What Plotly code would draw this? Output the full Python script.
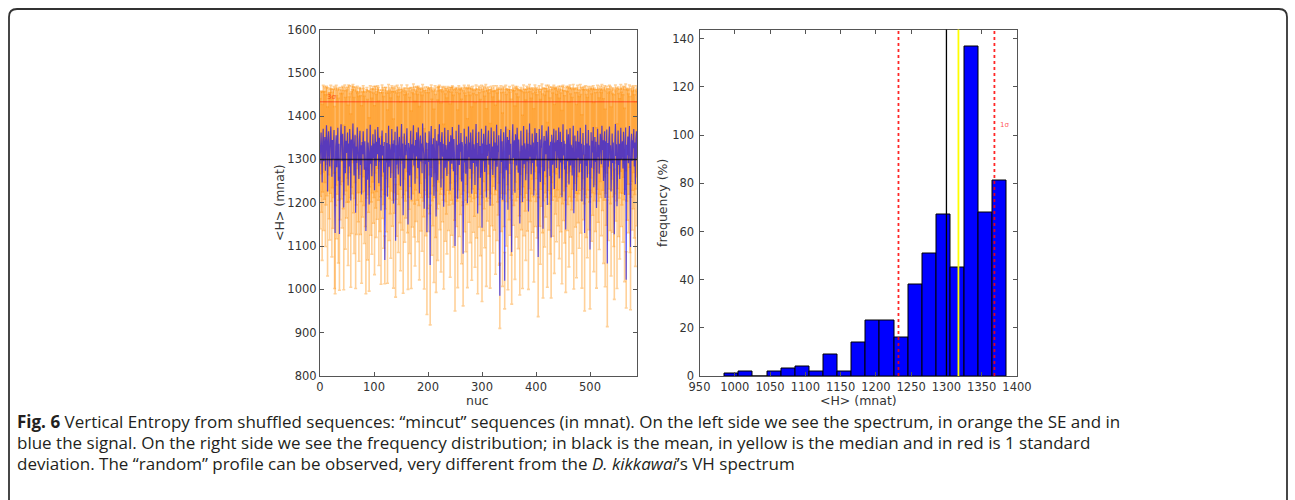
import plotly.graph_objects as go

# ---------------- data ----------------
signal = [
    1290, 1335, 1362, 1318, 1247, 1340, 1371, 1296, 1338, 1352, 1274, 1330, 1379, 1341, 1226, 1338, 1365, 1308, 1284, 1342,
    1376, 1333, 1260, 1345, 1301, 1337, 1368, 1212, 1130, 1329, 1356, 1282, 1340, 1373, 1251, 1336, 1128, 1311, 1347, 1381,
    1334, 1297, 1359, 1326, 1189, 1339, 1377, 1268, 1343, 1315, 1331, 1362, 1240, 1337, 1284, 1370, 1332, 1205, 1346, 1299,
    1341, 1383, 1322, 1263, 1335, 1357, 1177, 1330, 1292, 1374, 1338, 1306, 1255, 1344, 1366, 1287, 1333, 1219, 1340, 1312,
    1365, 1329, 1276, 1342, 1300, 1135, 1336, 1371, 1253, 1339, 1318, 1196, 1347, 1380, 1290, 1332, 1261, 1343, 1358, 1303,
    1337, 1229, 1369, 1328, 1285, 1341, 1312, 1375, 1336, 1245, 1350, 1294, 1334, 1182, 1345, 1367, 1309, 1331, 1270, 1340,
    1068, 1326, 1361, 1293, 1338, 1214, 1347, 1378, 1283, 1335, 1320, 1257, 1342, 1370, 1301, 1336, 1198, 1344, 1316, 1364,
    1112, 1333, 1288, 1376, 1340, 1265, 1331, 1352, 1304, 1238, 1346, 1382, 1297, 1337, 1171, 1339, 1360, 1279, 1334, 1310,
    1343, 1372, 1291, 1150, 1338, 1325, 1263, 1348, 1366, 1207, 1335, 1299, 1341, 1379, 1286, 1332, 1244, 1345, 1307, 1363,
    1336, 1280, 1374, 1329, 1222, 1342, 1355, 1295, 1337, 1268, 1383, 1334, 1313, 1186, 1344, 1362, 1289, 1339, 1132, 1327,
    1338, 1294, 1365, 1320, 1056, 1341, 1377, 1259, 1335, 1302, 1349, 1216, 1337, 1370, 1285, 1168, 1343, 1326, 1252, 1358,
    1332, 1381, 1298, 1340, 1235, 1346, 1363, 1306, 1336, 1191, 1339, 1373, 1281, 1333, 1319, 1262, 1344, 1368, 1296, 1330,
    1341, 1228, 1356, 1336, 1290, 1375, 1332, 1273, 1347, 1310, 1100, 1338, 1366, 1300, 1334, 1209, 1345, 1380, 1287, 1337,
    1318, 1361, 1249, 1340, 1329, 1082, 1343, 1371, 1293, 1336, 1267, 1353, 1331, 1199, 1344, 1376, 1305, 1339, 1278, 1362,
    1333, 1221, 1347, 1369, 1292, 1335, 1314, 1241, 1342, 1382, 1284, 1338, 1175, 1346, 1364, 1299, 1331, 1258, 1340, 1371,
    1142, 1337, 1296, 1359, 1326, 1271, 1343, 1378, 1212, 1334, 1308, 1345, 1367, 1288, 1336, 1193, 1341, 1374, 1302, 1330,
    1264, 1348, 1365, 1297, 1339, 1230, 1344, 1380, 1283, 1332, 1317, 1356, 1246, 985, 1337, 1370, 1294, 1342, 1207, 1335,
    1363, 1300, 1020, 1341, 1376, 1275, 1333, 1352, 1184, 1345, 1311, 1368, 1290, 1336, 1259, 1086, 1340, 1381, 1303, 1329,
    1344, 1223, 1358, 1335, 1286, 1373, 1338, 1269, 1346, 1315, 1152, 1339, 1366, 1298, 1332, 1202, 1347, 1377, 1289, 1337,
    1321, 1252, 1342, 1369, 1295, 1336, 1180, 1348, 1383, 1306, 1334, 1266, 1341, 1360, 1292, 1339, 1217, 1345, 1372, 1300,
    1333, 1361, 1284, 1340, 1075, 1337, 1370, 1301, 1248, 1346, 1327, 1379, 1291, 1140, 1335, 1354, 1273, 1343, 1312, 1366,
    1338, 1195, 1344, 1376, 1297, 1332, 1262, 1341, 1120, 1357, 1336, 1288, 1347, 1371, 1232, 1339, 1319, 1367, 1280, 1334,
    1345, 1302, 1374, 1256, 1337, 1364, 1293, 1340, 1213, 1333, 1381, 1309, 1343, 1277, 1336, 1138, 1348, 1369, 1296, 1331,
    1358, 1242, 1339, 1372, 1286, 1334, 1324, 1263, 1346, 1378, 1176, 1338, 1355, 1299, 1342, 1227, 1335, 1366, 1304, 1341,
    1270, 1344, 1373, 1290, 1336, 1203, 1347, 1361, 1311, 1333, 1130, 1340, 1380, 1285, 1337, 1258, 1345, 1368, 1298, 1332,
    1092, 1339, 1363, 1281, 1343, 1316, 1375, 1236, 1335, 1352, 1294, 1341, 1188, 1346, 1371, 1305, 1334, 1267, 1340, 1359,
    1337, 1289, 1378, 1322, 1344, 1250, 1336, 1365, 1211, 1342, 1303, 1369, 1060, 1338, 1283, 1347, 1376, 1296, 1333, 1226,
    1345, 1360, 1292, 1339, 1274, 1127, 1341, 1382, 1308, 1335, 1192, 1348, 1367, 1287, 1336, 1255, 1343, 1373, 1300, 1330,
    1342, 1279, 1364, 1337, 1218, 1346, 1374, 1022, 1334, 1310, 1353, 1291, 1340, 1377, 1265, 1098, 1338, 1359, 1297, 1344,
    1326, 1370, 1284, 1339, 1243, 1347, 1365, 1302,
]

std_err = [
    150, 120, 95, 140, 180, 115, 100, 160, 130, 105, 175, 135, 90, 125, 195, 110, 100, 145, 170, 120,
    95, 130, 185, 110, 160, 125, 100, 210, 140, 135, 115, 165, 120, 90, 190, 130, 130, 150, 105, 85,
    125, 155, 110, 140, 190, 120, 95, 175, 115, 150, 130, 105, 185, 135, 160, 100, 120, 200, 110, 170,
    120, 90, 145, 180, 125, 110, 175, 135, 165, 95, 115, 150, 190, 120, 100, 160, 130, 205, 115, 145,
    105, 135, 170, 115, 155, 145, 125, 95, 185, 120, 140, 200, 110, 90, 165, 130, 180, 120, 110, 150,
    125, 195, 100, 140, 165, 115, 150, 95, 130, 190, 110, 160, 120, 170, 115, 105, 145, 135, 175, 120,
    55, 140, 105, 160, 120, 200, 110, 95, 170, 125, 145, 185, 115, 100, 155, 130, 195, 120, 140, 105,
    130, 125, 165, 95, 120, 180, 135, 110, 150, 195, 115, 90, 160, 125, 180, 120, 105, 170, 130, 145,
    115, 100, 160, 150, 125, 140, 180, 110, 100, 205, 130, 155, 120, 95, 165, 135, 190, 115, 150, 105,
    130, 170, 95, 135, 200, 120, 110, 160, 125, 180, 90, 130, 145, 185, 115, 105, 165, 120, 190, 140,
    125, 160, 100, 145, 138, 120, 95, 180, 130, 155, 110, 200, 125, 100, 165, 175, 115, 140, 185, 110,
    135, 90, 160, 120, 195, 115, 105, 150, 130, 190, 120, 95, 170, 130, 145, 180, 115, 100, 160, 135,
    120, 200, 110, 130, 165, 95, 135, 175, 115, 150, 150, 125, 100, 155, 130, 205, 115, 90, 165, 125,
    145, 105, 190, 120, 135, 120, 115, 100, 160, 130, 180, 110, 135, 195, 120, 95, 150, 125, 170, 105,
    130, 200, 115, 100, 160, 125, 145, 190, 120, 90, 165, 125, 185, 115, 105, 155, 135, 180, 120, 100,
    170, 125, 160, 110, 140, 175, 115, 95, 205, 130, 150, 115, 100, 165, 125, 190, 120, 95, 155, 135,
    180, 110, 105, 160, 120, 195, 115, 90, 170, 130, 145, 110, 190, 75, 125, 100, 160, 120, 200, 130,
    105, 155, 65, 120, 95, 175, 130, 110, 185, 115, 150, 100, 165, 125, 180, 120, 120, 90, 155, 135,
    115, 200, 110, 130, 165, 95, 125, 175, 115, 145, 165, 120, 100, 160, 130, 200, 110, 95, 165, 125,
    140, 185, 120, 100, 160, 130, 180, 115, 90, 150, 130, 175, 120, 105, 160, 125, 200, 115, 100, 155,
    130, 105, 165, 120, 138, 125, 100, 155, 190, 115, 135, 95, 160, 160, 130, 110, 175, 120, 145, 105,
    125, 190, 115, 95, 160, 135, 180, 120, 140, 110, 130, 165, 115, 100, 195, 125, 145, 100, 170, 130,
    115, 155, 95, 185, 125, 105, 160, 120, 200, 135, 90, 150, 115, 170, 130, 145, 110, 100, 160, 135,
    110, 190, 125, 100, 165, 130, 140, 180, 115, 95, 175, 125, 110, 155, 120, 200, 130, 105, 150, 120,
    175, 115, 100, 160, 130, 200, 115, 105, 150, 135, 180, 120, 90, 165, 125, 185, 115, 100, 160, 130,
    137, 125, 105, 170, 120, 145, 95, 195, 130, 110, 160, 120, 185, 115, 100, 150, 130, 175, 120, 110,
    125, 165, 95, 140, 115, 190, 130, 105, 205, 120, 155, 100, 146, 125, 170, 115, 95, 160, 135, 195,
    115, 105, 160, 125, 175, 150, 120, 90, 150, 130, 190, 115, 100, 165, 125, 185, 120, 100, 155, 135,
    120, 170, 105, 130, 200, 115, 100, 65, 130, 150, 110, 160, 120, 95, 180, 145, 125, 110, 160, 115,
    140, 100, 165, 120, 190, 115, 105, 155,
]

mean_left = 1300
three_sigma_level = 1433

hist_counts = [1, 2, 0, 2, 3, 4, 2, 9, 2, 14, 23, 23, 16, 38, 51, 67, 45, 137, 68, 81]
hist_bin_start = 985.7
hist_bin_width = 20.0
mean_h = 1300
median_h = 1317
std_h = 68

caption_lines = [
    "<b>Fig. 6</b> Vertical Entropy from shuffled sequences: \u201cmincut\u201d sequences (in mnat). "
    "On the left side we see the spectrum, in orange the SE and in",
    "blue the signal. On the right side we see the frequency distribution; in black is the mean, "
    "in yellow is the median and in red is 1 standard",
    "deviation. The \u201crandom\u201d profile can be observed, very different from the "
    "<i>D. kikkawai</i>\u2019s VH spectrum",
]

# ---------------- figure ----------------
W, H = 1295, 500
nuc = list(range(len(signal)))
bin_centers = [hist_bin_start + hist_bin_width * (i + 0.5) for i in range(len(hist_counts))]

fig = go.Figure()

# orange SE error bars
fig.add_trace(go.Scatter(
    x=nuc, y=signal, mode="markers",
    marker=dict(size=1, color="rgba(0,0,0,0)"),
    error_y=dict(type="data", array=std_err, visible=True,
                 color="rgba(255,140,0,0.4)", thickness=1.6, width=1.5),
    xaxis="x", yaxis="y", showlegend=False, hoverinfo="skip",
))
# blue signal
fig.add_trace(go.Scatter(
    x=nuc, y=signal, mode="lines",
    line=dict(color="rgba(0,0,255,0.65)", width=1.2),
    xaxis="x", yaxis="y", showlegend=False,
))

# histogram bars
fig.add_trace(go.Bar(
    x=bin_centers, y=hist_counts, width=hist_bin_width,
    marker=dict(color="#0000ff", line=dict(color="#000000", width=1)),
    xaxis="x2", yaxis="y2", showlegend=False,
))

tick_font = dict(family="DejaVu Sans", size=11.5, color="#333333")
title_font = dict(family="DejaVu Sans", size=12.5, color="#333333")
axis_common = dict(
    showline=True, linecolor="#555555", linewidth=1.2, mirror="ticks",
    ticks="inside", ticklen=4, tickcolor="#555555", tickwidth=1,
    showgrid=False, zeroline=False, tickfont=tick_font, automargin=False,
)

ydom = [1 - 376 / H, 1 - 29.5 / H]
fig.update_layout(
    width=W, height=H,
    margin=dict(l=0, r=0, t=0, b=0),
    paper_bgcolor="white", plot_bgcolor="white",
    bargap=0,
    xaxis=dict(domain=[320 / W, 637 / W], range=[0, len(signal) - 1],
               tickvals=[0, 100, 200, 300, 400, 500], **axis_common),
    yaxis=dict(domain=ydom, range=[800, 1600], tickvals=list(range(800, 1601, 100)), **axis_common),
    xaxis2=dict(domain=[699.5 / W, 1017 / W], range=[950, 1400], anchor="y2",
                tickvals=list(range(950, 1401, 50)), **axis_common),
    yaxis2=dict(domain=ydom, range=[0, max(hist_counts) * 1.05], anchor="x2",
                tickvals=list(range(0, 141, 20)), ticklabelstandoff=2, **axis_common),
)

shapes = []
# left: mean and 3 sigma lines
shapes.append(dict(type="line", xref="x domain", yref="y", x0=0, x1=1, y0=mean_left, y1=mean_left,
                   line=dict(color="rgba(0,0,0,0.7)", width=1.5), layer="above"))
shapes.append(dict(type="line", xref="x domain", yref="y", x0=0, x1=1,
                   y0=three_sigma_level, y1=three_sigma_level,
                   line=dict(color="rgba(255,0,0,0.6)", width=1), layer="above"))
# right: mean, median, +/- 1 std
shapes.append(dict(type="line", xref="x2", yref="y2 domain", x0=mean_h, x1=mean_h, y0=0, y1=1,
                   line=dict(color="black", width=1.3), layer="above"))
shapes.append(dict(type="line", xref="x2", yref="y2 domain", x0=median_h, x1=median_h, y0=0, y1=1,
                   line=dict(color="#ffff00", width=1.8), layer="above"))
for xv in (mean_h - std_h, mean_h + std_h):
    shapes.append(dict(type="line", xref="x2", yref="y2 domain", x0=xv, x1=xv, y0=0, y1=1,
                       line=dict(color="rgba(255,0,0,0.85)", width=1.8, dash="3px,3px"), layer="above"))

# rounded outer frame (open at the bottom)
x0, x1, top = 9 / W, 1287 / W, 1 - 9 / H
rx, ry = 8 / W, 8 / H
frame_path = (f"M {x0},{-0.01} L {x0},{top - ry} Q {x0},{top} {x0 + rx},{top} "
              f"L {x1 - rx},{top} Q {x1},{top} {x1},{top - ry} L {x1},{-0.01}")
shapes.append(dict(type="path", xref="paper", yref="paper", path=frame_path,
                   line=dict(color="#333333", width=1.8)))
fig.update_layout(shapes=shapes)

annotations = [
    dict(x=9, y=1445, xref="x", yref="y", text="3\u03c3", showarrow=False,
         xanchor="left", yanchor="middle",
         font=dict(family="DejaVu Sans", size=7, color="rgba(255,0,0,0.6)")),
    dict(x=mean_h + std_h + 5, y=104, xref="x2", yref="y2", text="1\u03c3", showarrow=False,
         xanchor="left", yanchor="middle",
         font=dict(family="DejaVu Sans", size=7, color="rgba(255,0,0,0.7)")),
    # axis titles
    dict(x=478 / W, y=1 - 400 / H, xref="paper", yref="paper", text="nuc", showarrow=False,
         xanchor="center", yanchor="middle", font=title_font, borderpad=0),
    dict(x=279 / W, y=1 - 203 / H, xref="paper", yref="paper", text="&lt;H&gt; (mnat)",
         textangle=-90, showarrow=False, xanchor="center", yanchor="middle", font=title_font,
         borderpad=0),
    dict(x=858 / W, y=1 - 400 / H, xref="paper", yref="paper", text="&lt;H&gt; (mnat)",
         showarrow=False, xanchor="center", yanchor="middle", font=title_font, borderpad=0),
    dict(x=662 / W, y=1 - 203 / H, xref="paper", yref="paper", text="frequency (%)",
         textangle=-90, showarrow=False, xanchor="center", yanchor="middle", font=title_font,
         borderpad=0),
]
for i, line in enumerate(caption_lines):
    annotations.append(dict(
        x=15 / W, y=1 - (421 + 21 * i) / H, xref="paper", yref="paper",
        text=line, showarrow=False, xanchor="left", yanchor="middle", align="left",
        font=dict(family="Open Sans", size=17.0, color="#231f20"),
    ))
fig.update_layout(annotations=annotations)

fig.write_html("out.html")
